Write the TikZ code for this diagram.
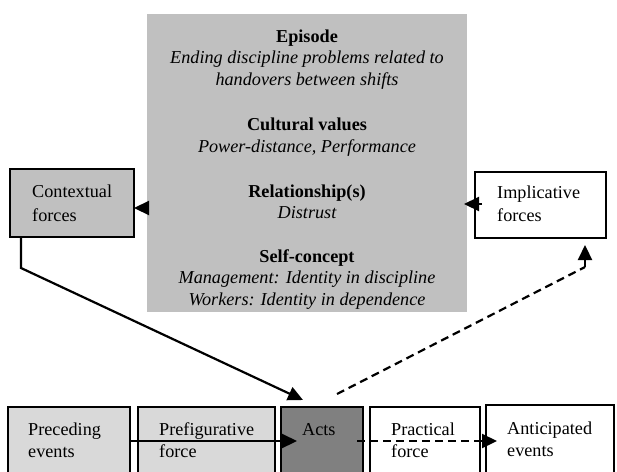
\documentclass[tikz,border=0pt]{standalone}
\usepackage{fontspec}
\setmainfont{Liberation Serif}
\usetikzlibrary{arrows.meta,calc}
\definecolor{boxgray}{RGB}{192,192,192}
\definecolor{palegray}{RGB}{217,217,217}
\definecolor{actsgray}{RGB}{128,128,128}
\begin{document}
\begin{tikzpicture}[x=1pt,y=-1pt,
  box/.style={draw, line width=1.8pt, inner sep=0, outer sep=0, anchor=north west},
  lbl/.style={anchor=base west, inner sep=0, font=\fontsize{18.2}{22}\selectfont},
  hd/.style={anchor=base, inner sep=0, font=\fontsize{18.2}{22}\selectfont\bfseries},
  itl/.style={anchor=base, inner sep=0, font=\fontsize{18.2}{22}\selectfont\itshape},
  tip/.style={-{Triangle[length=15pt,width=14pt]}},
  conn/.style={line width=2.2pt},
  dashconn/.style={line width=2.2pt, dash pattern=on 8pt off 5pt}]
\clip (0,0) rectangle (617,471);
% central grey panel
\node[fill=boxgray, inner sep=0, outer sep=0, minimum width=320pt, minimum height=298pt, anchor=north west] (core) at (147,14) {};
\begin{scope}
\clip (147,14) rectangle (467,308);
\node[hd]  (t1)  at (307,42)  {Episode};
\node[itl] (t2)  at (307,63)  {Ending discipline problems related to};
\node[itl] (t3)  at (307,85)  {handovers between shifts};
\node[hd]  (t4)  at (307,130) {Cultural values};
\node[itl] (t5)  at (307,152) {Power-distance, Performance};
\node[hd]  (t6)  at (307,197) {Relationship(s)};
\node[itl] (t7)  at (307,218) {Distrust};
\node[hd]  (t8)  at (307,262) {Self-concept};
\node[itl] (t9)  at (307,283) {Management: Identity in discipline};
\node[itl] (t10) at (307,305) {Workers: Identity in dependence};
\end{scope}
% side boxes
\node[box, fill=boxgray, minimum width=124pt, minimum height=68pt] (ctx) at (10,169) {};
\node[lbl] (ctx1) at (32,197) {Contextual};
\node[lbl] (ctx2) at (32,221) {forces};
\node[box, fill=white, minimum width=131pt, minimum height=66pt] (imp) at (475,172) {};
\node[lbl] (imp1) at (497,198) {Implicative};
\node[lbl] (imp2) at (497,221) {forces};
% bottom row
\node[box, fill=palegray, minimum width=122pt, minimum height=75pt] (pre) at (8,407) {};
\node[box, fill=palegray, minimum width=137pt, minimum height=75pt] (pref) at (138,407) {};
\node[box, fill=actsgray, minimum width=82pt, minimum height=75pt] (acts) at (281,407) {};
\node[box, fill=white, minimum width=110pt, minimum height=75pt] (prac) at (370,407) {};
\node[box, fill=white, minimum width=128pt, minimum height=77pt] (ant) at (486,405) {};
\node[lbl] (pre1) at (28,435) {Preceding};
\node[lbl] (pre2) at (28,457) {events};
\node[lbl] (pref1) at (159,435) {Prefigurative};
\node[lbl] (pref2) at (159,457) {force};
\node[lbl] (acts1) at (302,435) {Acts};
\node[lbl] (prac1) at (391,435) {Practical};
\node[lbl] (prac2) at (391,457) {force};
\node[lbl] (ant1) at (507,434) {Anticipated};
\node[lbl] (ant2) at (507,456) {events};
% connectors
\draw[conn, tip] (core.west |- 0,208) -- (ctx.east |- 0,208);
\draw[conn, tip] ($(imp.west |- 0,204)+(7,0)$) -- ($(core.east |- 0,204)+(-3,0)$);
\coordinate (bendL) at (21,268);
\draw[conn, tip] (ctx.south -| bendL) -- (bendL) -- ($(acts.north)+(-19,-7)$);
\coordinate (bendR) at (585,267);
\draw[dashconn] ($(acts.north)+(15,-13)$) -- (bendR);
\draw[conn, tip] (bendR) -- ($(imp.south -| bendR)+(0,7)$);
\draw[conn, tip] (pre.east |- 0,441) -- ($(acts.west |- 0,441)+(16,0)$);
\draw[dashconn, tip] ($(acts.east |- 0,441)+(-6,0)$) -- ($(ant.west |- 0,441)+(11,0)$);
\end{tikzpicture}
\end{document}
